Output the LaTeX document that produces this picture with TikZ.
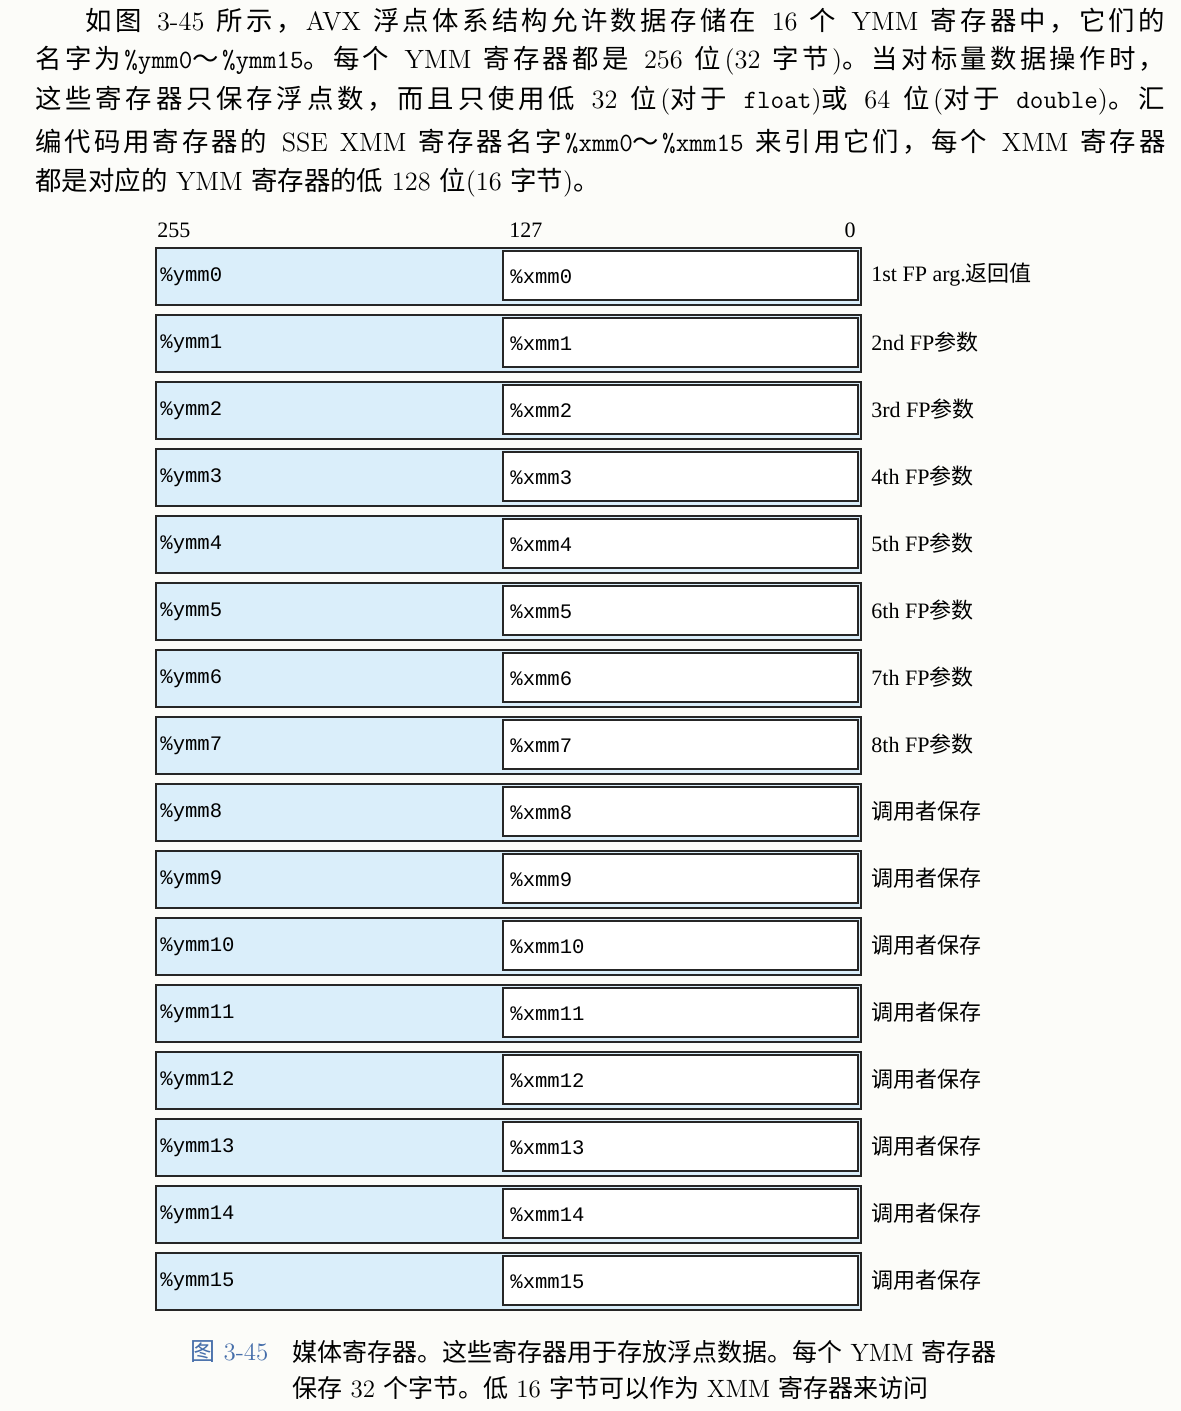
\documentclass[tikz,border=0pt]{standalone}
\usepackage{fontspec}
\newfontfamily\cjk{Noto Sans CJK SC}
\newfontfamily\tms{Liberation Serif}
\newfontfamily\cour{Liberation Mono}
% CJK run, with a little stretch after every character
\def\zh#1{{\cjk\zhloop#1\relax}}
\def\zhloop#1{\ifx#1\relax\else#1\hskip0pt plus 2pt\relax\expandafter\zhloop\fi}
\definecolor{ymmblue}{RGB}{218,238,250}
\definecolor{paper}{RGB}{252,252,249}
\definecolor{capblue}{RGB}{70,110,170}

\begin{document}
\begin{tikzpicture}[
  x=0.5pt, y=-0.5pt,
  ymmbox/.style={draw=black!85, line width=1pt, fill=ymmblue, anchor=north west,
    minimum width=352.5pt, minimum height=28.5pt, inner sep=0pt},
  xmmbox/.style={draw=black!85, line width=0.8pt, fill=white, anchor=north west,
    minimum width=177.5pt, minimum height=24.5pt, inner sep=0pt},
  regname/.style={anchor=west, inner sep=0pt, font=\cour\fontsize{10.3}{12}\selectfont},
  bitnum/.style={inner sep=0pt, font=\tms\fontsize{11}{13}\selectfont},
  note/.style={anchor=west, inner sep=0pt, font=\tms\fontsize{11}{13}\selectfont},
  bodyline/.style={anchor=west, inner sep=0pt, font=\fontsize{13.2}{16}\selectfont},
  capline/.style={anchor=west, inner sep=0pt, font=\fontsize{12.5}{15}\selectfont}
]
\fill[paper] (0,0) rectangle (1181,1411);

% paragraph above the figure
\node[bodyline] (line1) at (85,21) {\makebox[541.5pt][s]{\zh{如图} 3-45 \zh{所示，}AVX \zh{浮点体系结构允许数据存储在} 16 \zh{个} YMM \zh{寄存器中，它们的}}};
\node[bodyline] (line2) at (35,61) {\makebox[566.5pt][s]{\zh{名字为}{\ttfamily\%ymm0}\zh{～}{\ttfamily\%ymm15}\zh{。每个} YMM \zh{寄存器都是} 256 \zh{位}(32 \zh{字节})\zh{。当对标量数据操作时，}}};
\node[bodyline] (line3) at (35,101) {\makebox[566.5pt][s]{\zh{这些寄存器只保存浮点数，而且只使用低} 32 \zh{位}(\zh{对于} {\ttfamily float})\zh{或} 64 \zh{位}(\zh{对于} {\ttfamily double})\zh{。汇}}};
\node[bodyline] (line4) at (35,142) {\makebox[566.5pt][s]{\zh{编代码用寄存器的} SSE XMM \zh{寄存器名字}{\ttfamily\%xmm0}\zh{～}{\ttfamily\%xmm15} \zh{来引用它们，每个} XMM \zh{寄存器}}};
\node[bodyline] (line5) at (35,183) {\zh{都是对应的} YMM \zh{寄存器的低} 128 \zh{位}(16 \zh{字节})\zh{。}};

% bit numbers
\node[bitnum, anchor=west] (b255) at (157,230) {255};
\node[bitnum, anchor=west] (b127) at (509,230) {127};
\node[bitnum] (b0) at (850,230) {0};

% the sixteen registers
\foreach \i/\txt in {0/{1st FP arg.\zh{返回值}}, 1/{2nd FP\zh{参数}}, 2/{3rd FP\zh{参数}},
    3/{4th FP\zh{参数}}, 4/{5th FP\zh{参数}}, 5/{6th FP\zh{参数}}, 6/{7th FP\zh{参数}},
    7/{8th FP\zh{参数}}, 8/\zh{调用者保存}, 9/\zh{调用者保存}, 10/\zh{调用者保存},
    11/\zh{调用者保存}, 12/\zh{调用者保存}, 13/\zh{调用者保存}, 14/\zh{调用者保存},
    15/\zh{调用者保存}} {
  \pgfmathtruncatemacro\top{247+67*\i}
  \node[ymmbox] (ymm\i) at (155,\top) {};
  \node[xmmbox] (xmm\i) at (502,\top+3) {};
  \node[regname] (yname\i) at (160,\top+30) {\%ymm\i};
  \node[regname] (xname\i) at (510,\top+30) {\%xmm\i};
  \node[note] (note\i) at (871,\top+28) {\txt};
}

% caption
\node[capline, text=capblue] (fignum) at (190,1352) {\zh{图} 3-45};
\node[capline] (cap1) at (292,1352) {\zh{媒体寄存器。这些寄存器用于存放浮点数据。每个} YMM \zh{寄存器}};
\node[capline] (cap2) at (292,1388) {\zh{保存} 32 \zh{个字节。低} 16 \zh{字节可以作为} XMM \zh{寄存器来访问}};
\end{tikzpicture}
\end{document}
